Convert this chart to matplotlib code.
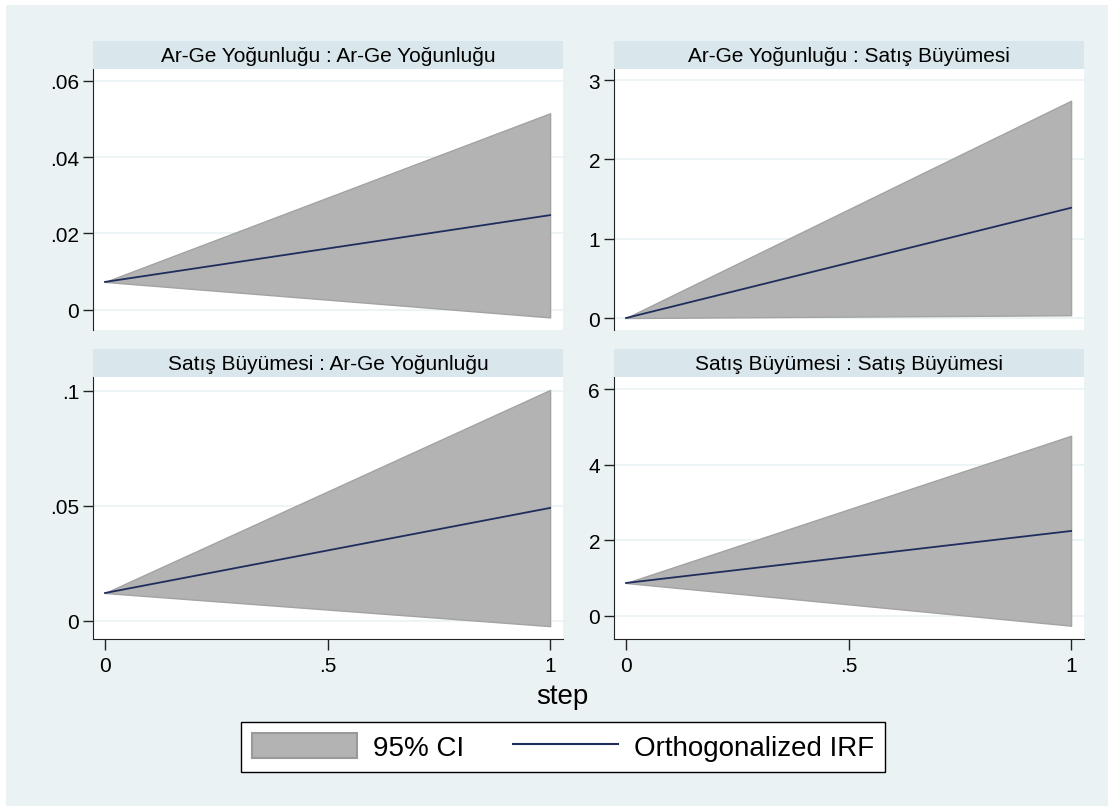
import matplotlib.pyplot as plt
from matplotlib.patches import Patch
from matplotlib.lines import Line2D

plt.rcParams['font.family'] = ['Liberation Sans', 'DejaVu Sans']

steps = [0, 1]

# impulse : response -> (irf, lower, upper)
titles = ['Ar-Ge Yoğunluğu : Ar-Ge Yoğunluğu',
          'Ar-Ge Yoğunluğu : Satış Büyümesi',
          'Satış Büyümesi : Ar-Ge Yoğunluğu',
          'Satış Büyümesi : Satış Büyümesi']

irf_rr = [0.0073, 0.0248]
lo_rr = [0.0073, -0.0020]
hi_rr = [0.0073, 0.0515]

irf_rs = [0.0, 1.39]
lo_rs = [0.0, 0.035]
hi_rs = [0.0, 2.74]

irf_sr = [0.012, 0.049]
lo_sr = [0.012, -0.0024]
hi_sr = [0.012, 0.1003]

irf_ss = [0.867, 2.246]
lo_ss = [0.867, -0.265]
hi_ss = [0.867, 4.77]

yticks = [[0, 0.02, 0.04, 0.06], [0, 1, 2, 3], [0, 0.05, 0.1], [0, 2, 4, 6]]
ylabels = [['0', '.02', '.04', '.06'], ['0', '1', '2', '3'], ['0', '.05', '.1'], ['0', '2', '4', '6']]
ylims = [(-0.0053, 0.0631), (-0.151, 3.14), (-0.008, 0.1058), (-0.618, 6.32)]
xticks = [0, 0.5, 1]
xlabels = ['0', '.5', '1']

series = [(irf_rr, lo_rr, hi_rr), (irf_rs, lo_rs, hi_rs),
          (irf_sr, lo_sr, hi_sr), (irf_ss, lo_ss, hi_ss)]

bg = '#eaf2f3'
strip = '#d9e6eb'
fill_c = '#b3b3b3'
line_c = '#1f2d5c'

W, H = 1113, 812
fig = plt.figure(figsize=(W / 100, H / 100), dpi=100, facecolor=bg)
# thin white border around the graph region
fig.patches.append(plt.Rectangle((0, 0), 1, 1, transform=fig.transFigure,
                                 fill=False, edgecolor='white', linewidth=8, zorder=10))

# panel boxes in pixels: left, right, top, bottom
lefts = [93, 614]
rights = [563, 1084]
tops = [70, 378.3]
bottoms = [331, 640]
strip_h = 28

for i in range(4):
    r, c = divmod(i, 2)
    l, rt, t, b = lefts[c], rights[c], tops[r], bottoms[r]
    ax = fig.add_axes([l / W, 1 - b / H, (rt - l) / W, (b - t) / H])
    ax.set_facecolor('white')
    irf, lo, hi = series[i]
    ax.fill_between(steps, lo, hi, facecolor=fill_c, edgecolor='#a3a3a3', linewidth=1, zorder=2)
    ax.plot(steps, irf, color=line_c, linewidth=1.3, zorder=3)
    ax.set_xlim(-0.027, 1.029)
    ax.set_ylim(*ylims[i])
    ax.set_yticks(yticks[i])
    ax.set_yticklabels(ylabels[i])
    for y in yticks[i]:
        ax.axhline(y, color=bg, linewidth=1.2, zorder=1)
    for s in ['top', 'right']:
        ax.spines[s].set_visible(False)
    ax.spines['left'].set_color('#222222')
    ax.tick_params(axis='y', length=7, width=1, color='#222222', labelsize=15, pad=3)
    if r == 1:
        ax.set_xticks(xticks)
        ax.set_xticklabels(xlabels)
        ax.spines['bottom'].set_color('#222222')
        ax.tick_params(axis='x', length=8, width=1, color='#222222', labelsize=15, pad=4)
    else:
        ax.set_xticks([])
        ax.spines['bottom'].set_visible(False)

    # title strip
    sax = fig.add_axes([l / W, 1 - t / H, (rt - l) / W, strip_h / H])
    sax.set_facecolor(strip)
    sax.set_xticks([])
    sax.set_yticks([])
    for s in sax.spines.values():
        s.set_visible(False)
    sax.text(0.5, 0.5, titles[i], ha='center', va='center', fontsize=15,
             transform=sax.transAxes)

fig.text(562 / W, 1 - 697 / H, 'step', ha='center', va='center', fontsize=20)

handles = [Patch(facecolor=fill_c, edgecolor='#9a9a9a', linewidth=1.5),
           Line2D([0], [0], color=line_c, linewidth=1.5)]
leg = fig.legend(handles, ['95% CI', 'Orthogonalized IRF'], loc='center',
                 bbox_to_anchor=(563 / W, 1 - 748 / H), ncol=2, fontsize=20,
                 frameon=True, fancybox=False, edgecolor='black', framealpha=1,
                 handlelength=3.8, handleheight=1.0, handletextpad=0.58,
                 columnspacing=1.73, borderpad=0.4)
leg.get_frame().set_linewidth(1)

fig.savefig('out.png', dpi=100, facecolor=fig.get_facecolor())
